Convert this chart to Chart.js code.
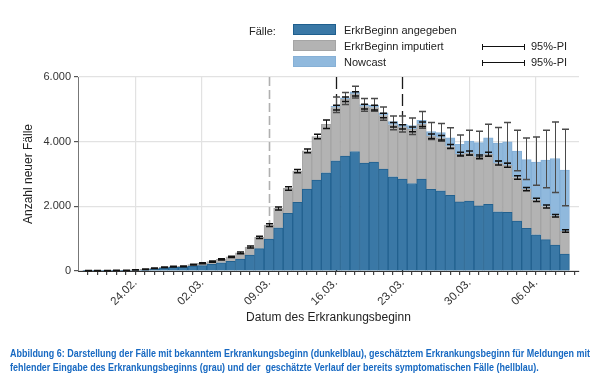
<!DOCTYPE html>
<html><head><meta charset="utf-8">
<script src="https://cdn.jsdelivr.net/npm/chart.js@4.4.1/dist/chart.umd.min.js"></script>
<style>
html,body{margin:0;padding:0;background:#fff;}
#wrap{position:relative;width:600px;height:382px;font-family:"Liberation Sans",Arial,sans-serif;color:#222;overflow:hidden;}
canvas{position:absolute;left:0;top:0;}
.lg{position:absolute;font-size:11px;line-height:13px;white-space:nowrap;color:#222;}
.box{position:absolute;width:43px;height:11px;box-sizing:border-box;}
.eb{position:absolute;height:6px;width:43px;border-left:1px solid #111;border-right:1px solid #111;box-sizing:border-box;}
.eb::after{content:"";position:absolute;left:0;right:0;top:2px;border-top:1px solid #111;}
.cap{position:absolute;left:10px;color:#1769c2;font-weight:bold;font-size:10.5px;line-height:13px;white-space:nowrap;transform-origin:0 0;font-family:"Liberation Sans Narrow","Liberation Sans",Arial,sans-serif;}
</style></head><body>
<div id="wrap">
<canvas id="c" width="600" height="382"></canvas>
<div class="lg" style="left:249px;top:25px;">Fälle:</div>
<div class="box" style="left:293px;top:24px;background:#3a78a6;border:1px solid #1f5f8e;"></div>
<div class="box" style="left:293px;top:40px;background:#b3b3b3;border:1px solid #a5a5a5;"></div>
<div class="box" style="left:293px;top:56px;background:#90b9dd;border:1px solid #86b0d6;"></div>
<div class="lg" style="left:344px;top:24px;">ErkrBeginn angegeben</div>
<div class="lg" style="left:344px;top:40px;">ErkrBeginn imputiert</div>
<div class="lg" style="left:344px;top:56px;">Nowcast</div>
<div class="eb" style="left:482px;top:44px;"></div>
<div class="eb" style="left:482px;top:60px;"></div>
<div class="lg" style="left:531px;top:40px;">95%-PI</div>
<div class="lg" style="left:531px;top:56px;">95%-PI</div>
<div class="cap" id="cap1" style="top:347px;">Abbildung 6: Darstellung der Fälle mit bekanntem Erkrankungsbeginn (dunkelblau), geschätztem Erkrankungsbeginn für Meldungen mit</div>
<div class="cap" id="cap2" style="top:361px;">fehlender Eingabe des Erkrankungsbeginns (grau) und der&nbsp; geschätzte Verlauf der bereits symptomatischen Fälle (hellblau).</div>
</div>
<script>
const dates = ['19.02.','20.02.','21.02.','22.02.','23.02.','24.02.','25.02.','26.02.','27.02.','28.02.','29.02.',
'01.03.','02.03.','03.03.','04.03.','05.03.','06.03.','07.03.','08.03.','09.03.','10.03.','11.03.','12.03.','13.03.','14.03.','15.03.','16.03.','17.03.','18.03.','19.03.','20.03.','21.03.','22.03.','23.03.','24.03.','25.03.','26.03.','27.03.','28.03.','29.03.','30.03.','31.03.',
'01.04.','02.04.','03.04.','04.04.','05.04.','06.04.','07.04.','08.04.','09.04.'];
const tickLabels = ['24.02.','02.03.','09.03.','16.03.','23.03.','30.03.','06.04.'];
const markerDates = ['09.03.','16.03.','23.03.'];
const yTicks = [0, 2000, 4000, 6000];

// Fälle mit angegebenem Erkrankungsbeginn
const angegeben = [3,3,5,6,8,15,30,60,90,110,115,150,165,210,255,300,370,494,690,988,1338,1780,2120,2532,2810,3036,3406,3551,3695,3335,3366,3150,2913,2841,2707,2841,2527,2481,2337,2136,2160,2012,2065,1832,1812,1544,1318,1120,970,800,525];
// Fälle mit imputiertem Erkrankungsbeginn
const imputiert = [9,9,10,12,14,20,25,25,25,25,30,45,72,80,105,135,190,247,350,432,597,773,968,1184,1348,1504,1648,1760,1781,1750,1688,1660,1607,1616,1673,1699,1643,1639,1513,1479,1490,1518,1545,1508,1458,1346,1212,1080,1025,910,710];
// Nowcast (zusätzlich)
const nowcast = [0,0,0,0,0,0,0,0,0,0,0,0,0,0,0,0,0,0,0,0,0,0,0,0,0,0,40,41,62,62,72,79,105,78,120,120,145,160,270,305,370,440,507,615,724,820,915,1170,1433,1769,1884];
// 95%-PI Imputation (untere / obere Grenze)
const impLo = [8,8,11,13,17,28,47,76,105,124,134,182,222,274,342,415,535,712,1005,1380,1890,2500,3035,3655,4090,4410,4980,5240,5410,5010,4980,4740,4450,4390,4310,4470,4100,4050,3790,3560,3590,3470,3550,3280,3210,2835,2480,2150,1950,1670,1195];
const impHi = [16,16,19,23,27,42,63,94,125,146,156,208,252,306,378,455,585,770,1075,1460,1980,2605,3140,3775,4230,4670,5130,5380,5545,5160,5130,4880,4590,4525,4450,4610,4240,4190,3910,3670,3710,3590,3670,3400,3330,2945,2580,2250,2040,1750,1275];
// 95%-PI Nowcast
const ncLo = [null,null,null,null,null,null,null,null,null,null,null,null,null,null,null,null,null,null,null,null,null,null,null,null,null,null,4900,5147,5352,4941,4941,4663,4370,4302,4225,4415,4070,4010,3800,3582,3580,3530,3560,3400,3330,3098,2830,2655,2573,2429,2017];
const ncHi = [null,null,null,null,null,null,null,null,null,null,null,null,null,null,null,null,null,null,null,null,null,null,null,null,null,null,5383,5517,5713,5332,5332,5074,4796,4796,4735,4930,4590,4565,4430,4210,4354,4323,4539,4436,4591,4354,4117,4148,4354,4611,4385];

const pts = arr => arr.map((v, i) => ({x: i, y: v}));
const fmt = v => v >= 1000 ? Math.floor(v/1000) + '.' + String(v % 1000).padStart(3, '0') : String(v);

const vlinePlugin = {
  id: 'vlines',
  beforeDatasetsDraw(chart) {
    const {ctx, chartArea, scales: {x}} = chart;
    ctx.save();
    markerDates.forEach((d, k) => {
      const px = Math.round(x.getPixelForValue(dates.indexOf(d))) + 0.5;
      ctx.beginPath();
      ctx.strokeStyle = k === 0 ? '#b0b0b0' : '#1a1a1a';
      ctx.lineWidth = k === 0 ? 1.6 : 1.3;
      ctx.setLineDash(k === 0 ? [9, 4] : [12, 5]);
      ctx.moveTo(px, chartArea.top);
      ctx.lineTo(px, chartArea.bottom);
      ctx.stroke();
    });
    ctx.restore();
  }
};

const errPlugin = {
  id: 'errbars',
  afterDatasetsDraw(chart) {
    const {ctx, scales: {x, y}} = chart;
    ctx.save();
    function eb(i, lo, hi, color, cap) {
      const px = Math.round(x.getPixelForValue(i)) + 0.5;
      const yl = y.getPixelForValue(lo), yh = y.getPixelForValue(hi);
      ctx.strokeStyle = color;
      ctx.lineWidth = 1;
      ctx.beginPath();
      ctx.moveTo(px, yl); ctx.lineTo(px, yh);
      ctx.stroke();
      ctx.lineWidth = 1.5;
      ctx.beginPath();
      ctx.moveTo(px - cap, yl); ctx.lineTo(px + cap, yl);
      ctx.moveTo(px - cap, yh); ctx.lineTo(px + cap, yh);
      ctx.stroke();
    }
    for (let i = 0; i < dates.length; i++) {
      if (ncLo[i] != null) eb(i, ncLo[i], ncHi[i], '#4a4a4a', 3.5);
    }
    for (let i = 0; i < dates.length; i++) {
      eb(i, impLo[i], impHi[i], '#111', 3.5);
    }
    ctx.restore();
  }
};

const FONT = '"Liberation Sans", Arial, sans-serif';

new Chart(document.getElementById('c'), {
  type: 'bar',
  data: {
    datasets: [
      {label: 'ErkrBeginn angegeben', data: pts(angegeben), backgroundColor: '#3a78a6', borderColor: '#22618f', borderWidth: 1},
      {label: 'ErkrBeginn imputiert', data: pts(imputiert), backgroundColor: '#b3b3b3', borderColor: '#a4a4a4', borderWidth: 1},
      {label: 'Nowcast', data: pts(nowcast), backgroundColor: '#90b9dd', borderColor: '#84afd6', borderWidth: 1}
    ]
  },
  options: {
    responsive: false,
    animation: false,
    barPercentage: 1,
    categoryPercentage: 1,
    layout: {padding: {left: 17, right: 21, top: 77, bottom: 53}},
    plugins: {legend: {display: false}, tooltip: {enabled: false}},
    scales: {
      x: {
        type: 'linear',
        stacked: true,
        min: -0.5,
        max: 51.0,
        afterBuildTicks: s => { s.ticks = Array.from({length: dates.length + 1}, (_, i) => ({value: i})); },
        afterFit: s => { s.height = 58; },
        grid: {
          offset: false,
          color: c => (c.tick && tickLabels.includes(dates[c.tick.value]) && !markerDates.includes(dates[c.tick.value])) ? '#e2e2e2' : 'rgba(0,0,0,0)',
          tickColor: '#444',
          tickLength: 4,
          lineWidth: 1.2
        },
        border: {color: '#333', width: 1},
        ticks: {
          autoSkip: false,
          minRotation: 45,
          maxRotation: 45,
          padding: 1,
          color: '#333',
          font: {family: FONT, size: 11.5},
          callback: v => tickLabels.includes(dates[v]) ? dates[v] : ''
        },
        title: {display: true, text: 'Datum des Erkrankungsbeginn', color: '#222', font: {family: FONT, size: 12}, padding: {top: 2, bottom: 4}}
      },
      y: {
        stacked: true,
        min: 0,
        max: 6000,
        afterBuildTicks: s => { s.ticks = yTicks.map(v => ({value: v})); },
        afterFit: s => { s.width = 61; },
        grid: {color: '#e2e2e2', tickColor: '#555', tickLength: 4, lineWidth: 1.2},
        border: {color: '#777', width: 1},
        ticks: {color: '#333', padding: 3, font: {family: FONT, size: 11}, callback: v => fmt(v)},
        title: {display: true, text: 'Anzahl neuer Fälle', color: '#222', font: {family: FONT, size: 12}, padding: {top: 4, bottom: 4}}
      }
    }
  },
  plugins: [vlinePlugin, errPlugin]
});

// fit caption to reference width
(function(){
  const c1 = document.getElementById('cap1'), c2 = document.getElementById('cap2');
  const w = c1.getBoundingClientRect().width;
  const s = 580 / w;
  c1.style.transform = 'scaleX(' + s + ')';
  c2.style.transform = 'scaleX(' + s + ')';
})();
</script>
</body></html>
